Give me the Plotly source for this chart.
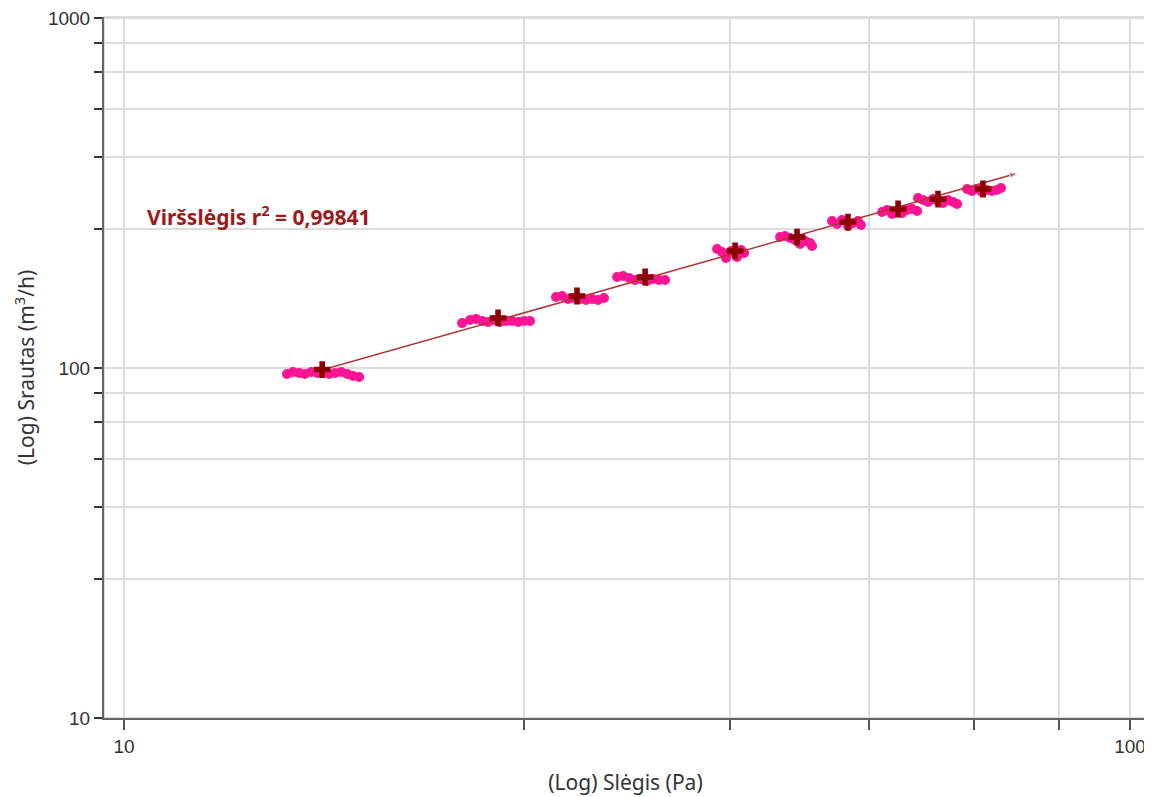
import plotly.graph_objects as go
import math

# ---- data ----
pressure_pts = [
    # cluster 1
    14.52, 14.72, 14.93, 15.13, 15.35, 15.56, 15.78, 15.99, 16.21, 16.44, 16.67, 16.89, 17.13,
    # cluster 2
    21.68, 22.08, 22.39, 22.70, 23.01, 23.33, 23.65, 23.98, 24.31, 24.65, 24.99, 25.33,
    # cluster 3
    26.88, 27.25, 27.63, 28.01, 28.40, 28.79, 29.19, 29.59, 30.00,
    # cluster 4
    30.91, 31.34, 31.77, 32.21, 32.66, 33.11, 33.56, 34.03, 34.50,
    # cluster 5
    38.86, 39.30, 39.75, 40.13, 40.59, 41.06, 41.34, 39.66, 40.68,
    # cluster 6
    44.89, 45.40, 45.93, 46.46, 46.99, 47.53, 48.08, 48.30, 46.99,
    # cluster 7
    50.56, 51.14, 51.73, 52.44, 53.04, 53.65, 54.02,
    # cluster 8
    56.70, 57.35, 58.01, 58.68, 59.35, 60.04, 60.73, 61.43,
    # cluster 9
    61.56, 62.27, 62.99, 63.71, 64.44, 65.19, 65.94, 66.70, 67.32,
    # cluster 10
    68.86, 69.65, 70.45, 71.26, 72.08, 72.91, 73.75, 74.43,
]
flow_pts = [
    96.1, 97.4, 96.8, 96.1, 97.4, 96.8, 97.4, 96.1, 96.8, 97.4, 96.1, 94.9, 94.3,
    134.4, 137.1, 138.0, 136.2, 135.3, 137.1, 135.3, 136.2, 136.2, 135.3, 136.2, 136.2,
    159.6, 160.6, 157.4, 158.5, 157.4, 156.4, 157.4, 156.4, 158.5,
    182.0, 183.2, 180.8, 178.4, 179.6, 177.3, 179.6, 178.4, 178.4,
    218.8, 214.5, 210.3, 216.0, 211.7, 217.4, 213.1, 206.2, 207.6,
    236.7, 238.3, 235.2, 232.1, 233.7, 230.6, 227.6, 223.2, 226.1,
    263.0, 257.9, 264.8, 254.5, 259.6, 263.0, 256.2,
    279.1, 282.8, 275.4, 280.97, 277.3, 282.8, 284.7, 280.97,
    305.9, 302.0, 298.1, 303.9, 300.0, 296.1, 302.0, 298.1, 294.2,
    324.7, 320.4, 324.7, 318.3, 322.5, 320.4, 322.5, 326.8,
]
mean_pressure = [15.74, 23.54, 28.20, 32.96, 40.50, 46.67, 52.44, 58.81, 64.44, 71.43]
mean_flow = [99.0, 139.0, 160.6, 182.0, 216.0, 236.7, 261.3, 284.7, 303.9, 324.7]
fit_pressure = [15.85, 77.39]
fit_flow = [99.3, 360.6]
r2_label = "Viršslėgis r<sup>2</sup> = 0,99841"

x_tickvals = [10, 25, 40, 55, 70, 85, 100]
x_ticktext = ["10", "", "", "", "", "", "100"]
y_tickvals = [10, 25, 40, 55, 70, 85, 100, 250, 400, 550, 700, 850, 1000]
y_ticktext = ["10", "", "", "", "", "", "100", "", "", "", "", "", "1000"]

fig = go.Figure()
fig.add_trace(go.Scatter(
    x=pressure_pts, y=flow_pts, mode="markers",
    marker=dict(color="#ff1493", size=10, line=dict(width=0)),
    hoverinfo="skip", showlegend=False))
fig.add_trace(go.Scatter(
    x=fit_pressure, y=fit_flow, mode="lines+markers",
    line=dict(color="#b03535", width=1.5),
    marker=dict(symbol="arrow", size=[0, 9], angleref="previous", color="#b03535"),
    hoverinfo="skip", showlegend=False))
fig.add_trace(go.Scatter(
    x=mean_pressure, y=mean_flow, mode="markers",
    marker=dict(symbol="cross", color="#8b0000", size=14, line=dict(width=0)),
    hoverinfo="skip", showlegend=False))

fig.add_annotation(
    x=math.log10(10.49), y=math.log10(273.5), xref="x", yref="y",
    text=r2_label, showarrow=False, xanchor="left", yanchor="middle",
    font=dict(family="Noto Sans", size=21, color="#9c1a1c", weight="bold"))

fig.add_shape(type="rect", xref="paper", yref="paper", x0=0, y0=0, x1=1, y1=1,
              line=dict(color="#cfcfcf", width=1.5), layer="below")

tickfont = dict(family="Liberation Sans", size=19, color="#333333")
fig.update_xaxes(
    type="log", range=[0.9801, 2.0169], automargin=False, ticklabeloverflow="allow",
    tickvals=x_tickvals, ticktext=x_ticktext, tickfont=tickfont,
    showgrid=True, gridcolor="#dcdcdc", gridwidth=1.5,
    showline=True, linecolor="#666666", linewidth=2,
    ticks="outside", ticklen=10, tickwidth=2, tickcolor="#555555",
    zeroline=False,
    title=dict(text="(Log) Slėgis (Pa)", font=dict(family="Noto Sans", size=21, color="#333333"), standoff=20))
fig.update_yaxes(
    type="log", range=[1, 3.003], automargin=False, ticklabeloverflow="allow",
    tickvals=y_tickvals, ticktext=y_ticktext, tickfont=tickfont,
    showgrid=True, gridcolor="#dcdcdc", gridwidth=1.5,
    showline=True, linecolor="#666666", linewidth=2,
    ticks="outside", ticklen=8, tickwidth=2, tickcolor="#333333",
    zeroline=False,
    title=dict(text="(Log) Srautas (m<sup>3</sup>/h)", font=dict(family="Noto Sans", size=21, color="#333333"), standoff=8))

fig.update_layout(
    width=1144, height=789,
    margin=dict(l=96, r=5, t=9, b=79),
    plot_bgcolor="white", paper_bgcolor="white",
    showlegend=False)

fig.write_html("out.html")
